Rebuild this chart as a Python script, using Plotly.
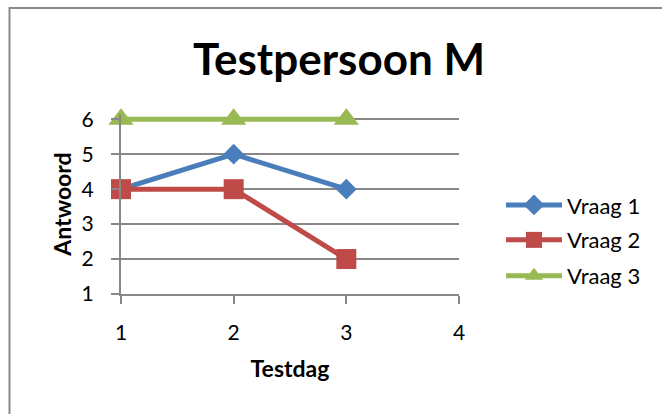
import plotly.graph_objects as go

# Survey answers per test day for one test person
testdag = [1, 2, 3]
vraag_1 = [4, 5, 4]
vraag_2 = [4, 4, 2]
vraag_3 = [6, 6, 6]

series_names = ["Vraag 1", "Vraag 2", "Vraag 3"]
series_colors = ["#4A7EBB", "#BE4B48", "#98B954"]
series_symbols = ["diamond", "square", "triangle-up"]
series_sizes = [16, 20, 22]
series_values = [vraag_1, vraag_2, vraag_3]

x_ticks = [1, 2, 3, 4]
y_ticks = [1, 2, 3, 4, 5, 6]
y_top = 6.15  # a little headroom so the line at 6 is not clipped

W, H = 662, 414
px_per_unit = 35.0
L, R, B = 121, W - 459, H - 294
T = 119 - (y_top - 6) * px_per_unit
plot_w = W - L - R
plot_h = H - T - B

FONT = "Lato"
GRID = "#878787"

fig = go.Figure()
legend_ids = ["legend", "legend2", "legend3"]
for name, vals, col, sym, sz, lg in zip(series_names, series_values, series_colors,
                                       series_symbols, series_sizes, legend_ids):
    fig.add_trace(go.Scatter(
        x=testdag, y=vals, name=name, mode="lines+markers",
        line=dict(color=col, width=5),
        marker=dict(symbol=sym, size=sz, color=col, line=dict(width=0)),
        cliponaxis=False, legend=lg, showlegend=True,
    ))


def py(ypix):
    """Pixel row -> paper y fraction."""
    return (H - B - ypix) / plot_h


def px(xpix):
    """Pixel column -> paper x fraction."""
    return (xpix - L) / plot_w


legend_font = dict(family=FONT, size=22, color="#000000")
leg_common = dict(font=legend_font, bgcolor="rgba(0,0,0,0)", xanchor="left",
                  yanchor="middle", x=px(501), itemwidth=56)

fig.update_layout(
    width=W, height=H,
    margin=dict(l=L, r=R, t=T, b=B),
    paper_bgcolor="white", plot_bgcolor="white",
    showlegend=True,
    title=dict(text="<b>Testpersoon M</b>", x=px(339), xref="paper",
               xanchor="center", y=(H - 60) / H, yanchor="middle",
               font=dict(family=FONT, size=44, color="#000000")),
    xaxis=dict(range=[1, 4], tickvals=x_ticks, showgrid=False, zeroline=False,
               showline=True, linecolor=GRID, linewidth=2,
               ticks="outside", ticklen=8, tickwidth=2, tickcolor=GRID,
               ticklabelstandoff=11,
               tickfont=dict(family=FONT, size=21, color="#000000"),
               title=dict(text="<b>Testdag</b>", standoff=18,
                          font=dict(family=FONT, size=23, color="#000000"))),
    yaxis=dict(range=[1, y_top], tickvals=y_ticks, showgrid=True, gridcolor=GRID,
               gridwidth=2, zeroline=False,
               showline=True, linecolor=GRID, linewidth=2,
               ticks="outside", ticklen=8, tickwidth=2, tickcolor=GRID,
               ticklabelstandoff=13,
               tickfont=dict(family=FONT, size=21, color="#000000"),
               title=dict(text="<b>Antwoord</b>", standoff=4,
                          font=dict(family=FONT, size=23, color="#000000"))),
    legend=dict(**leg_common, y=py(205)),
    legend2=dict(**leg_common, y=py(240)),
    legend3=dict(**leg_common, y=py(276)),
    shapes=[dict(type="rect", xref="paper", yref="paper",
                 x0=px(9.5), x1=px(W + 20),
                 y0=py(H + 20), y1=py(7.5),
                 line=dict(color="#8A8A8A", width=2), layer="below")],
)

fig.write_html("out.html")
